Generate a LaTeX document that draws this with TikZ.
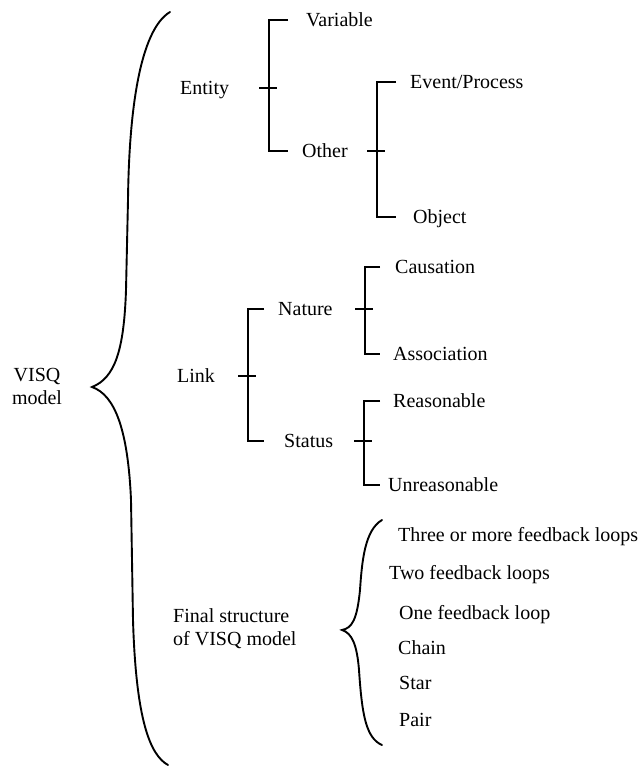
\documentclass[tikz,border=0pt]{standalone}
\usepackage{fontspec}
\setmainfont{Liberation Serif}
\begin{document}
% Forked bracket: parent, upper child, lower child, spine x, stub end x
\newcommand\forkbr[5]{%
  \path (#4-10,0) coordinate (fa) (#4+8,0) coordinate (fb)
        (#4,0) coordinate (fs) (#5,0) coordinate (fe);
  \draw[br] (fa |- #1.west) -- (fb |- #1.west);
  \draw[br] (fe |- #2.west) -- (fs |- #2.west) -- (fs |- #3.west) -- (fe |- #3.west);
}
\begin{tikzpicture}[x=1pt,y=-1pt,
  every node/.style={font=\fontsize{20}{23}\selectfont, inner sep=0pt},
  item/.style={anchor=west, text height=13.4pt, text depth=0pt},
  br/.style={line width=2pt, line join=miter},
  brace/.style={line width=1.9pt, line cap=round}]
\useasboundingbox (0,0) rectangle (644,767);

% root and first level
\node[align=center, anchor=north] (visq) at (37,368) {VISQ\\model};
\node[item] (ent) at (180,88) {Entity};
\node[item] (lnk) at (177,376) {Link};
\node[align=left, anchor=north west] (fin) at (173,608) {Final structure\\of VISQ model};

% entity branch
\node[item] (var) at (306,20) {Variable};
\node[item] (oth) at (302,151) {Other};
\node[item] (evt) at (410,82) {Event/Process};
\node[item] (obj) at (413,217) {Object};

% link branch
\node[item] (nat) at (278,309) {Nature};
\node[item] (sta) at (284,441) {Status};
\node[item] (cau) at (395,267) {Causation};
\node[item] (ass) at (393,354) {Association};
\node[item] (rea) at (393,401) {Reasonable};
\node[item] (unr) at (388,485) {Unreasonable};

% final structures
\node[item] (s1) at (398,535) {Three or more feedback loops};
\node[item] (s2) at (389,573) {Two feedback loops};
\node[item] (s3) at (399,613) {One feedback loop};
\node[item] (s4) at (398,648) {Chain};
\node[item] (s5) at (399,683) {Star};
\node[item] (s6) at (399,720) {Pair};

% forks
\forkbr{ent}{var}{oth}{269}{288}
\forkbr{oth}{evt}{obj}{377}{396}
\forkbr{lnk}{nat}{sta}{248}{264}
\forkbr{nat}{cau}{ass}{365}{380}
\forkbr{sta}{rea}{unr}{364}{380}

% large curly brace
\coordinate (bt) at (170,12);
\coordinate (btip) at (92,387);
\coordinate (bb) at (168,765);
\draw[brace] (bt) .. controls (140,30) and (129,110) .. (128,200)
  -- (126,290) .. controls (124,350) and (115,378) .. (btip)
  .. controls (115,395) and (128,430) .. (131,500)
  -- (133,620) .. controls (136,720) and (150,755) .. (bb);

% small curly brace
\coordinate (st) at (382,520);
\coordinate (stip) at (342,630);
\coordinate (sb) at (382,745);
\draw[brace] (st) .. controls (365,530) and (362,560) .. (360,590)
  .. controls (357,620) and (352,628) .. (stip)
  .. controls (352,633) and (357,645) .. (359,670)
  .. controls (362,715) and (366,738) .. (sb);
\end{tikzpicture}
\end{document}
